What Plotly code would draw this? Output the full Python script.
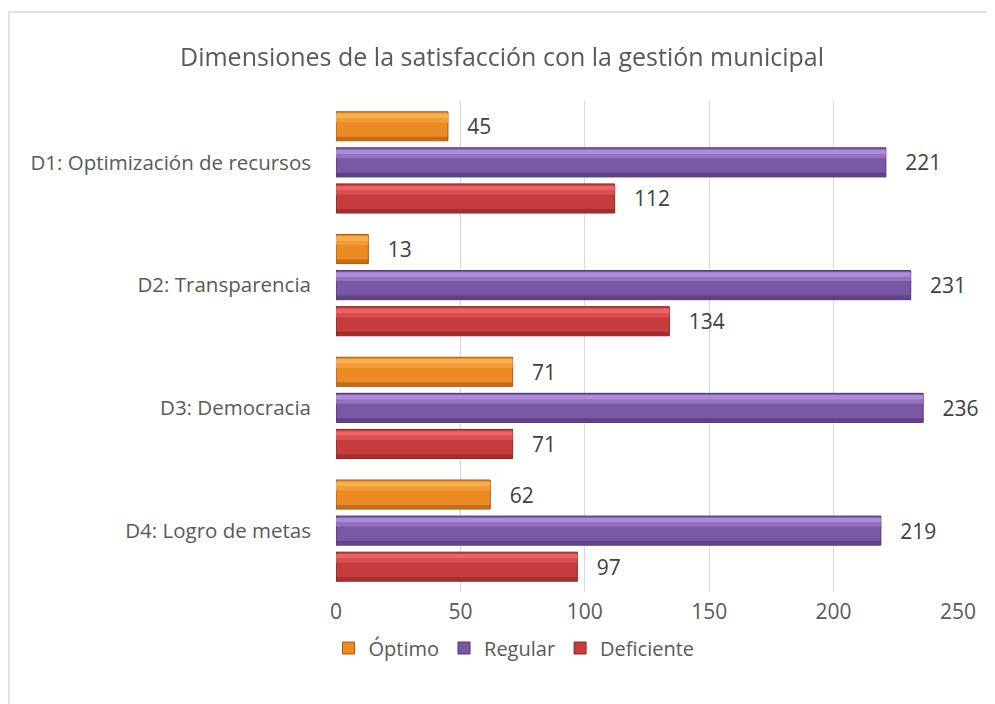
import plotly.graph_objects as go

categories = ["D1: Optimización de recursos", "D2: Transparencia", "D3: Democracia", "D4: Logro de metas"]
optimo = [45, 13, 71, 62]
regular = [221, 231, 236, 219]
deficiente = [112, 134, 71, 97]
series_names = ["Óptimo", "Regular", "Deficiente"]
tick_vals = [0, 50, 100, 150, 200, 250]

# main fill, top highlight, bottom shade
colors = ["#EC8B25", "#7A58A5", "#C63D3E"]
lights = ["#F8B04E", "#AC8BD9", "#EE6464"]
mids = ["#F29C36", "#9172C0", "#DA5050"]
darks = ["#A85B12", "#4E3574", "#8C2526"]
FONT = "Open Sans, sans-serif"

BW = 0.237      # bar thickness in category units
PITCH = 0.294
offsets = [-PITCH - BW / 2, -BW / 2, PITCH - BW / 2]

fig = go.Figure()
for name, vals, c, lt, md, dk, off in zip(series_names, [optimo, regular, deficiente],
                                          colors, lights, mids, darks, offsets):
    fig.add_trace(go.Bar(
        y=categories, x=vals, name=name, orientation="h",
        width=BW, offset=off,
        marker=dict(color=c, line=dict(color=dk, width=1)),
        text=[f"   {v}" for v in vals], textposition="outside",
        textfont=dict(size=21, color="#404040", family=FONT),
        cliponaxis=False,
    ))
    # bevel strips (same values, decorative)
    fig.add_trace(go.Bar(y=categories, x=vals, orientation="h", width=BW * 0.16,
                         offset=off + BW * 0.06, marker=dict(color=lt, line=dict(width=0)),
                         showlegend=False, hoverinfo="skip"))
    fig.add_trace(go.Bar(y=categories, x=vals, orientation="h", width=BW * 0.14,
                         offset=off + BW * 0.22, marker=dict(color=md, line=dict(width=0)),
                         showlegend=False, hoverinfo="skip"))
    fig.add_trace(go.Bar(y=categories, x=vals, orientation="h", width=BW * 0.12,
                         offset=off + BW * 0.86, marker=dict(color=dk, line=dict(width=0)),
                         showlegend=False, hoverinfo="skip", opacity=0.6))

OFF = 8  # page body margin
W, H = 995 - OFF, 704 - OFF
L, R, T, B = 336 - OFF, 37, 101 - OFF, 112
pw, ph = W - L - R, H - T - B

def px_x(p):
    return (p - OFF - L) / pw

def px_y(p):
    return (H - B - (p - OFF)) / ph

fig.add_shape(type="rect", xref="paper", yref="paper",
              x0=px_x(9), x1=px_x(1010), y0=px_y(12), y1=px_y(720),
              line=dict(color="#D9D9D9", width=1.5), fillcolor="rgba(0,0,0,0)", layer="below")

fig.update_layout(
    width=W, height=H,
    margin=dict(l=L, r=R, t=T, b=B, autoexpand=False),
    paper_bgcolor="white", plot_bgcolor="white",
    barmode="overlay",
    font=dict(family=FONT, color="#595959", size=21),
    title=dict(text="Dimensiones de la satisfacción con la gestión municipal",
               x=(502 - OFF) / W, xref="container", xanchor="center",
               y=1 - (57 - OFF) / H, yref="container", yanchor="middle",
               font=dict(size=25, color="#595959", family=FONT)),
    xaxis=dict(range=[0, 250], tickvals=tick_vals, showgrid=True, gridcolor="#D9D9D9",
               gridwidth=1, zeroline=False, showline=False, ticks="",
               tickfont=dict(size=21, color="#595959"), ticklabelstandoff=5),
    yaxis=dict(autorange="reversed", showgrid=False, ticks="", showline=False,
               tickfont=dict(size=20.5, color="#595959"), ticklabelstandoff=24),
    legend=dict(orientation="h", x=(514 - OFF) / W, xanchor="center", xref="container",
                y=1 - (648 - OFF) / H, yref="container", yanchor="middle",
                font=dict(size=20, color="#595959"), traceorder="normal",
                itemwidth=30, tracegroupgap=0),
)
fig.write_html("out.html")
